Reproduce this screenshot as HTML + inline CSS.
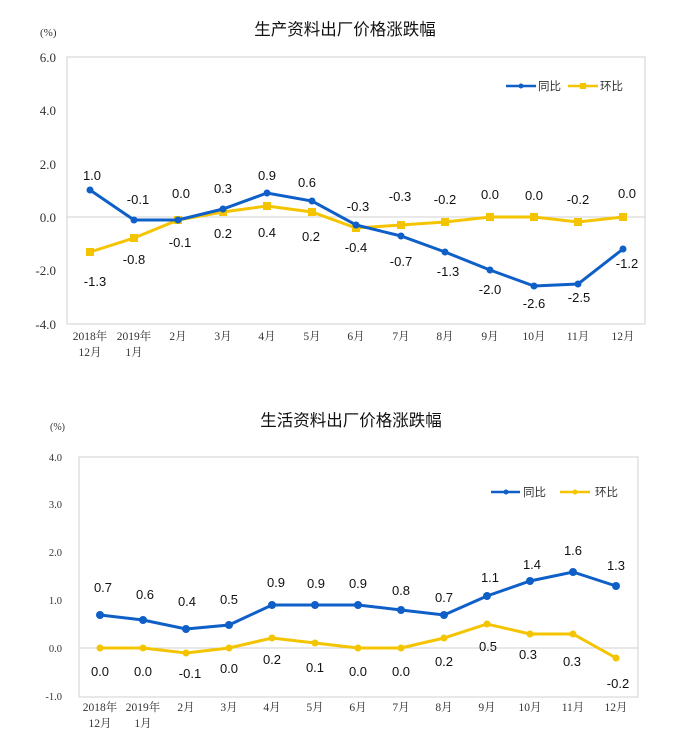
<!DOCTYPE html>
<html><head><meta charset="utf-8"><style>
html,body{margin:0;padding:0;background:#fff}
svg text{font-family:"Liberation Sans","Noto Sans CJK SC",sans-serif}
svg .s text, svg text.s{font-family:"Liberation Serif","Noto Serif CJK SC",serif;fill:#333}
.l{font-size:13px;fill:#111;text-anchor:middle}
svg text.t{font-size:16.5px;fill:#111;text-anchor:middle;font-family:"Noto Sans CJK SC",sans-serif}
.ax{font-size:11.5px;text-anchor:middle}
</style></head><body>
<svg width="692" height="733" viewBox="0 0 692 733" xmlns="http://www.w3.org/2000/svg">
<!-- Chart 1 -->
<text class="t" x="345" y="35">生产资料出厂价格涨跌幅</text>
<text class="s" x="40" y="36" font-size="11">(%)</text>
<rect x="67" y="57" width="578" height="267" fill="#fff" stroke="#d9d9d9" stroke-width="1.2"/>
<line x1="67" y1="217" x2="645" y2="217" stroke="#d0d0d0"/>
<g class="s" font-size="13" text-anchor="end">
<text x="56" y="62">6.0</text><text x="56" y="115">4.0</text><text x="56" y="169">2.0</text>
<text x="56" y="222">0.0</text><text x="56" y="275">-2.0</text><text x="56" y="329">-4.0</text>
</g>
<g class="s ax">
<text x="90" y="340">2018年</text><text x="90" y="356">12月</text>
<text x="134" y="340">2019年</text><text x="134" y="356">1月</text>
<text x="178" y="340">2月</text><text x="223" y="340">3月</text><text x="267" y="340">4月</text>
<text x="312" y="340">5月</text><text x="356" y="340">6月</text><text x="401" y="340">7月</text>
<text x="445" y="340">8月</text><text x="490" y="340">9月</text><text x="534" y="340">10月</text>
<text x="578" y="340">11月</text><text x="623" y="340">12月</text>
</g>
<polyline fill="none" stroke="#f5c400" stroke-width="3" points="90,252 134,238 178,220 223,212 267,206 312,212 356,228 401,225 445,222 490,217 534,217 578,222 623,217"/>
<g fill="#f5c400"><rect x="86" y="248" width="8" height="8"/><rect x="130" y="234" width="8" height="8"/><rect x="174" y="216" width="8" height="8"/><rect x="219" y="208" width="8" height="8"/><rect x="263" y="202" width="8" height="8"/><rect x="308" y="208" width="8" height="8"/><rect x="352" y="224" width="8" height="8"/><rect x="397" y="221" width="8" height="8"/><rect x="441" y="218" width="8" height="8"/><rect x="486" y="213" width="8" height="8"/><rect x="530" y="213" width="8" height="8"/><rect x="574" y="218" width="8" height="8"/><rect x="619" y="213" width="8" height="8"/></g>
<polyline fill="none" stroke="#0e5fc7" stroke-width="3" points="90,190 134,220 178,220 223,209 267,193 312,201 356,225 401,236 445,252 490,270 534,286 578,284 623,249"/>
<g fill="#0e5fc7"><circle cx="90" cy="190" r="3.5"/><circle cx="134" cy="220" r="3.5"/><circle cx="178" cy="220" r="3.5"/><circle cx="223" cy="209" r="3.5"/><circle cx="267" cy="193" r="3.5"/><circle cx="312" cy="201" r="3.5"/><circle cx="356" cy="225" r="3.5"/><circle cx="401" cy="236" r="3.5"/><circle cx="445" cy="252" r="3.5"/><circle cx="490" cy="270" r="3.5"/><circle cx="534" cy="286" r="3.5"/><circle cx="578" cy="284" r="3.5"/><circle cx="623" cy="249" r="3.5"/></g>
<g class="l">
<text x="92" y="180">1.0</text><text x="138" y="204">-0.1</text><text x="181" y="198">0.0</text><text x="223" y="193">0.3</text><text x="267" y="180">0.9</text><text x="307" y="187">0.6</text><text x="358" y="211">-0.3</text><text x="400" y="201">-0.3</text><text x="445" y="204">-0.2</text><text x="490" y="199">0.0</text><text x="534" y="200">0.0</text><text x="578" y="204">-0.2</text><text x="627" y="198">0.0</text>
<text x="95" y="286">-1.3</text><text x="134" y="264">-0.8</text><text x="180" y="247">-0.1</text><text x="223" y="238">0.2</text><text x="267" y="237">0.4</text><text x="311" y="241">0.2</text><text x="356" y="252">-0.4</text><text x="401" y="266">-0.7</text><text x="448" y="276">-1.3</text><text x="490" y="294">-2.0</text><text x="534" y="308">-2.6</text><text x="579" y="302">-2.5</text><text x="627" y="268">-1.2</text>
</g>
<line x1="506" y1="86" x2="536" y2="86" stroke="#0e5fc7" stroke-width="2.5"/><circle cx="521" cy="86" r="2.5" fill="#0e5fc7"/>
<text x="538" y="90" font-size="11.5" fill="#333">同比</text>
<line x1="568" y1="86" x2="598" y2="86" stroke="#f5c400" stroke-width="2.5"/><rect x="580" y="83" width="6" height="6" fill="#f5c400"/>
<text x="600" y="90" font-size="11.5" fill="#333">环比</text>

<!-- Chart 2 -->
<text class="t" x="351" y="426">生活资料出厂价格涨跌幅</text>
<text class="s" x="50" y="430" font-size="10">(%)</text>
<rect x="79" y="457" width="559" height="240" fill="#fff" stroke="#d9d9d9" stroke-width="1.2"/>
<line x1="79" y1="648" x2="638" y2="648" stroke="#d0d0d0"/>
<g class="s" font-size="10.5" text-anchor="end">
<text x="62" y="461">4.0</text><text x="62" y="508">3.0</text><text x="62" y="556">2.0</text>
<text x="62" y="604">1.0</text><text x="62" y="652">0.0</text><text x="62" y="700">-1.0</text>
</g>
<g class="s ax">
<text x="100" y="711">2018年</text><text x="100" y="727">12月</text>
<text x="143" y="711">2019年</text><text x="143" y="727">1月</text>
<text x="186" y="711">2月</text><text x="229" y="711">3月</text><text x="272" y="711">4月</text>
<text x="315" y="711">5月</text><text x="358" y="711">6月</text><text x="401" y="711">7月</text>
<text x="444" y="711">8月</text><text x="487" y="711">9月</text><text x="530" y="711">10月</text>
<text x="573" y="711">11月</text><text x="616" y="711">12月</text>
</g>
<polyline fill="none" stroke="#f5c400" stroke-width="3" points="100,648 143,648 186,653 229,648 272,638 315,643 358,648 401,648 444,638 487,624 530,634 573,634 616,658"/>
<g fill="#f5c400"><circle cx="100" cy="648" r="3.5"/><circle cx="143" cy="648" r="3.5"/><circle cx="186" cy="653" r="3.5"/><circle cx="229" cy="648" r="3.5"/><circle cx="272" cy="638" r="3.5"/><circle cx="315" cy="643" r="3.5"/><circle cx="358" cy="648" r="3.5"/><circle cx="401" cy="648" r="3.5"/><circle cx="444" cy="638" r="3.5"/><circle cx="487" cy="624" r="3.5"/><circle cx="530" cy="634" r="3.5"/><circle cx="573" cy="634" r="3.5"/><circle cx="616" cy="658" r="3.5"/></g>
<polyline fill="none" stroke="#0e5fc7" stroke-width="3" points="100,615 143,620 186,629 229,625 272,605 315,605 358,605 401,610 444,615 487,596 530,581 573,572 616,586"/>
<g fill="#0e5fc7"><circle cx="100" cy="615" r="4"/><circle cx="143" cy="620" r="4"/><circle cx="186" cy="629" r="4"/><circle cx="229" cy="625" r="4"/><circle cx="272" cy="605" r="4"/><circle cx="315" cy="605" r="4"/><circle cx="358" cy="605" r="4"/><circle cx="401" cy="610" r="4"/><circle cx="444" cy="615" r="4"/><circle cx="487" cy="596" r="4"/><circle cx="530" cy="581" r="4"/><circle cx="573" cy="572" r="4"/><circle cx="616" cy="586" r="4"/></g>
<g class="l">
<text x="103" y="592">0.7</text><text x="145" y="599">0.6</text><text x="187" y="606">0.4</text><text x="229" y="604">0.5</text><text x="276" y="587">0.9</text><text x="316" y="588">0.9</text><text x="358" y="588">0.9</text><text x="401" y="595">0.8</text><text x="444" y="602">0.7</text><text x="490" y="582">1.1</text><text x="532" y="569">1.4</text><text x="573" y="555">1.6</text><text x="616" y="570">1.3</text>
<text x="100" y="676">0.0</text><text x="143" y="676">0.0</text><text x="190" y="678">-0.1</text><text x="229" y="673">0.0</text><text x="272" y="664">0.2</text><text x="315" y="672">0.1</text><text x="358" y="676">0.0</text><text x="401" y="676">0.0</text><text x="444" y="666">0.2</text><text x="488" y="651">0.5</text><text x="528" y="659">0.3</text><text x="572" y="666">0.3</text><text x="618" y="688">-0.2</text>
</g>
<line x1="491" y1="492" x2="520" y2="492" stroke="#0e5fc7" stroke-width="2.5"/><circle cx="506" cy="492" r="2.5" fill="#0e5fc7"/>
<text x="523" y="496" font-size="11.5" fill="#333">同比</text>
<line x1="560" y1="492" x2="590" y2="492" stroke="#f5c400" stroke-width="2.5"/><circle cx="575" cy="492" r="2.5" fill="#f5c400"/>
<text x="595" y="496" font-size="11.5" fill="#333">环比</text>
</svg>
</body></html>
